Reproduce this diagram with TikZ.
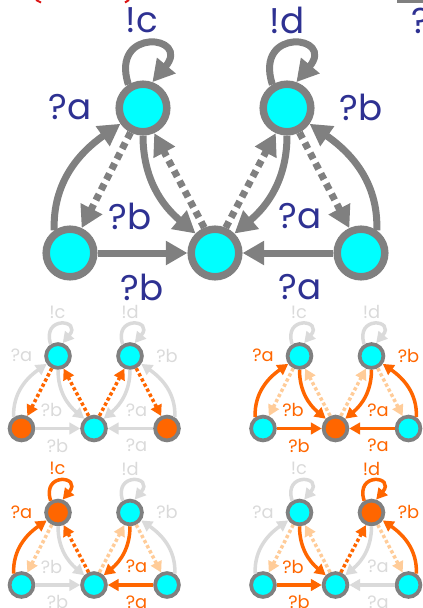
\documentclass[tikz,border=0pt]{standalone}
\usepackage{fontspec}
\setmainfont{Poppins}
\usetikzlibrary{arrows.meta}

\definecolor{ringgray}{RGB}{128,128,128}
\definecolor{stcyan}{RGB}{0,255,255}
\definecolor{lblblue}{RGB}{46,49,146}
\definecolor{hiorange}{RGB}{255,102,0}
\definecolor{fadegray}{RGB}{218,218,218}
\definecolor{peach}{RGB}{255,204,153}
\definecolor{cutred}{RGB}{220,20,20}

\newdimen\lw

\tikzset{
  st/.style={circle, draw=ringgray, fill=stcyan, line width=1.07*\lw, minimum size=6.8*\lw, inner sep=0pt},
  tr/.style={line width=\lw, -{Triangle[length=0pt 3.1, width=0pt 3.3]}},
  dot/.style={tr, dash pattern=on 0.95*\lw off 0.7*\lw},
  lbl/.style={font=\fontsize{5.1\lw}{6\lw}\selectfont},
  %% 色の状態
  nrm/.style={draw=ringgray, text=lblblue},
  hi/.style={draw=hiorange, text=hiorange},
  lo/.style={draw=fadegray, text=fadegray},
  pale/.style={draw=peach},
  on/.style={fill=hiorange},
  %% 既定
  sA/.style={}, sB/.style={}, sC/.style={}, sD/.style={}, sE/.style={},
  eAA/.style=nrm, eBB/.style=nrm,
  eCA/.style=nrm, eAD/.style=nrm, eBD/.style=nrm, eEB/.style=nrm,
  eCD/.style=nrm, eED/.style=nrm,
  dAC/.style=nrm, dDA/.style=nrm, dDB/.style=nrm, dBE/.style=nrm
}

\newcommand{\automat}{%
  %% 状態
  \node[st, sA] (A) at (143,-108) {};
  \node[st, sB] (B) at (287,-108) {};
  \node[st, sC] (C) at (70,-253) {};
  \node[st, sD] (D) at (215,-253) {};
  \node[st, sE] (E) at (361,-253) {};
  %% 点線
  \draw[dot, dAC] (A.243) -- (C.65);
  \draw[dot, dDA] (D.113) -- (A.-66);
  \draw[dot, dDB] (D.67) -- (B.246);
  \draw[dot, dBE] (B.-63) -- (E.115);
  %% ループ
  \draw[tr, eAA] (A.122) to[out=108, in=50, looseness=6.5] (A.70) node[lbl] (lAA) at (142,-20) {!c};
  \draw[tr, eBB] (B.122) to[out=108, in=50, looseness=6.5] (B.70) node[lbl] (lBB) at (287,-20) {!d};
  %% 実線
  \draw[tr, eCA] (C.125) to[out=92, in=215] (A.215) node[lbl] (lCA) at (70,-107) {?a};
  \draw[tr, eEB] (E.55) to[out=88, in=-35] (B.-35) node[lbl] (lEB) at (361,-107) {?b};
  \draw[tr, eAD] (A.270) to[out=-90, in=140] (D.135) node[lbl] (lAD) at (130,-216) {?b};
  \draw[tr, eBD] (B.270) to[out=-90, in=40] (D.45) node[lbl] (lBD) at (300,-216) {?a};
  \draw[tr, eCD] (C) -- (D) node[lbl] (lCD) at (142,-287) {?b};
  \draw[tr, eED] (E) -- (D) node[lbl] (lED) at (300,-287) {?a};
}

\begin{document}
\begin{tikzpicture}[x=1pt, y=1pt]

\useasboundingbox (0,0) rectangle (423,-608);
\clip (0,0) rectangle (423,-608);

%% 切れ端
\draw[cutred, line width=2] (36,0) -- (41,-2.5);
\draw[cutred, line width=2] (129,0) -- (125,-2.5);
\fill[ringgray] (397,0) rectangle (423,-3);
\node[text=lblblue, font=\fontsize{36}{40}\selectfont] (qcut) at (421,-21) {?};

%% 全体
\lw=7pt
\automat

%% 左上
\begin{scope}[shift={(-13.5,-302)}, scale=0.5,
  sC/.style=on, sE/.style=on,
  eAA/.style=lo, eBB/.style=lo, eCA/.style=lo, eAD/.style=lo,
  eBD/.style=lo, eEB/.style=lo, eCD/.style=lo, eED/.style=lo,
  dAC/.style=hi, dDA/.style=hi, dDB/.style=hi, dBE/.style=hi]
\lw=3.5pt
\automat
\end{scope}

%% 右上
\begin{scope}[shift={(228,-302)}, scale=0.5,
  sD/.style=on,
  eAA/.style=lo, eBB/.style=lo, eCA/.style=hi, eAD/.style=hi,
  eBD/.style=hi, eEB/.style=hi, eCD/.style=hi, eED/.style=hi,
  dAC/.style=pale, dDA/.style=pale, dDB/.style=pale, dBE/.style=pale]
\lw=3.5pt
\automat
\end{scope}

%% 左下
\begin{scope}[shift={(-13.5,-458.5)}, scale=0.5,
  sA/.style=on,
  eAA/.style=hi, eBB/.style=lo, eCA/.style=hi, eAD/.style=lo,
  eBD/.style=hi, eEB/.style=lo, eCD/.style=lo, eED/.style=hi,
  dAC/.style=pale, dDA/.style=hi, dDB/.style=pale, dBE/.style=pale]
\lw=3.5pt
\automat
\end{scope}

%% 右下
\begin{scope}[shift={(228,-458.5)}, scale=0.5,
  sB/.style=on,
  eAA/.style=lo, eBB/.style=hi, eCA/.style=lo, eAD/.style=hi,
  eBD/.style=lo, eEB/.style=hi, eCD/.style=hi, eED/.style=lo,
  dAC/.style=pale, dDA/.style=pale, dDB/.style=hi, dBE/.style=pale]
\lw=3.5pt
\automat
\end{scope}

\end{tikzpicture}
\end{document}
